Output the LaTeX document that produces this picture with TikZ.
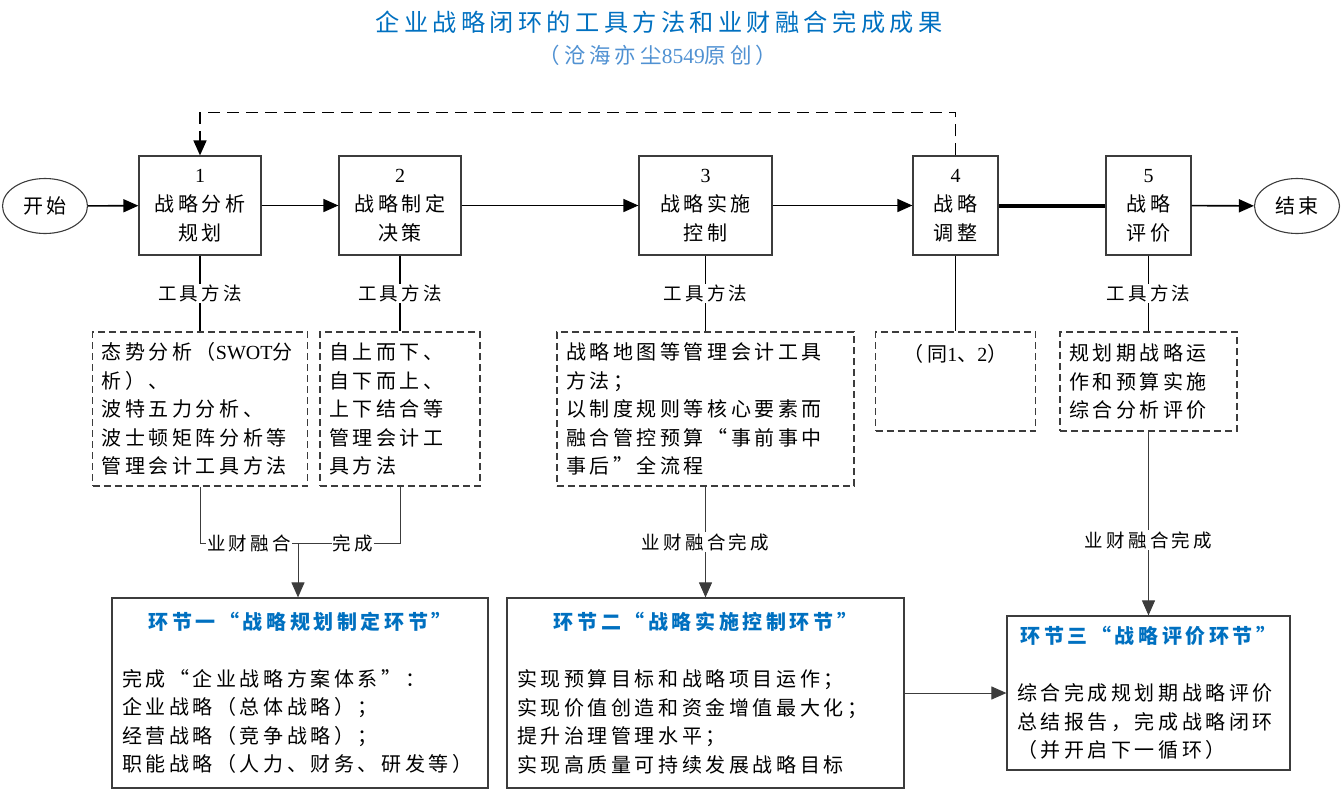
\documentclass[tikz,border=0pt]{standalone}
\usepackage{fontspec}
\setmainfont{Noto Sans CJK SC}[LetterSpace=18]
\newfontfamily\latin{Liberation Serif}
\usetikzlibrary{arrows.meta,shapes.geometric}
\definecolor{headblue}{RGB}{0,112,192}
\definecolor{subblue}{RGB}{80,145,210}
\definecolor{boxgray}{RGB}{60,60,60}

\begin{document}
\begin{tikzpicture}[
  x=1pt, y=-1pt, >={Triangle[length=15pt,width=13pt]},
  every node/.style={font=\fontsize{20}{28.5}\selectfont},
  term/.style={draw=boxgray, ellipse, line width=1.1pt, inner sep=0pt,
               minimum width=85pt, minimum height=55pt},
  stepbox/.style={draw=boxgray, line width=1.2pt, align=center, inner sep=0pt,
                  minimum height=99pt, font=\fontsize{20}{29}\selectfont},
  toolbox/.style={draw=boxgray, line width=1.3pt, dash pattern=on 7pt off 4pt,
                  align=left, inner xsep=9pt, inner ysep=0pt},
  stagebox/.style={draw=boxgray, line width=1.2pt, align=left, inner xsep=10pt,
                   inner ysep=0pt},
  lbl/.style={font=\fontsize{18.5}{22}\selectfont, fill=white, inner sep=1pt},
  flow/.style={line width=1.6pt},
  link/.style={line width=1pt, draw=boxgray}
]
% title
\node[font=\fontsize{24.2}{30}\selectfont\color{headblue}] (title) at (659,22)
  {企业战略闭环的工具方法和业财融合完成成果};
\node[font=\fontsize{21.5}{24}\selectfont\color{subblue}] (author) at (658,55)
  {（沧海亦尘{\latin 8549}原创）};

% main flow
\node[term] (start) at (45,206) {开始};
\node[stepbox, minimum width=122pt] (s1) at (200,205.5) {{\latin 1}\\战略分析\\规划};
\node[stepbox, minimum width=122pt] (s2) at (400,205.5) {{\latin 2}\\战略制定\\决策};
\node[stepbox, minimum width=133pt] (s3) at (705.5,205.5) {{\latin 3}\\战略实施\\控制};
\node[stepbox, minimum width=85pt] (s4) at (955.5,205.5) {{\latin 4}\\战略\\调整};
\node[stepbox, minimum width=85pt] (s5) at (1148.5,205.5) {{\latin 5}\\战略\\评价};
\node[term] (end) at (1297,206) {结束};

% tool boxes
\node[toolbox, minimum width=215pt, minimum height=154pt, text width=197pt] (d1) at (200,409)
  {态势分析（{\latin SWOT}分\\析）、\\波特五力分析、\\波士顿矩阵分析等\\管理会计工具方法};
\node[toolbox, minimum width=160pt, minimum height=154pt, text width=142pt] (d2) at (400,409)
  {自上而下、\\自下而上、\\上下结合等\\管理会计工\\具方法};
\node[toolbox, minimum width=297pt, minimum height=154pt, text width=279pt] (d3) at (705.5,409)
  {战略地图等管理会计工具\\方法；\\以制度规则等核心要素而\\融合管控预算“事前事中\\事后”全流程};
\node[toolbox, minimum width=160pt, minimum height=99pt, align=center] (d4) at (955.5,381.5)
  {（同{\latin 1}、{\latin 2}）\\\mbox{}\\\mbox{}};
\node[toolbox, minimum width=177pt, minimum height=99pt, text width=159pt] (d5) at (1148.5,381.5)
  {规划期战略运\\作和预算实施\\综合分析评价};

% stage boxes
\node[stagebox, minimum width=376pt, minimum height=190pt, text width=356pt] (b1) at (300,693)
  {\makebox[356pt]{\bfseries\color{headblue}环节一“战略规划制定环节”}\\\mbox{}\\
   完成“企业战略方案体系”：\\企业战略（总体战略）；\\经营战略（竞争战略）；\\职能战略（人力、财务、研发等）};
\node[stagebox, minimum width=397pt, minimum height=190pt, text width=377pt] (b2) at (705.5,693)
  {\makebox[377pt]{\bfseries\color{headblue}环节二“战略实施控制环节”}\\\mbox{}\\
   实现预算目标和战略项目运作；\\实现价值创造和资金增值最大化；\\提升治理管理水平；\\实现高质量可持续发展战略目标};
\node[stagebox, minimum width=283pt, minimum height=154pt, text width=263pt] (b3) at (1148.5,693)
  {\makebox[263pt]{\bfseries\color{headblue}环节三“战略评价环节”}\\\mbox{}\\
   综合完成规划期战略评价\\总结报告，完成战略闭环\\（并开启下一循环）};

% flow arrows
\draw[flow, ->] (start) -- (s1);
\draw[flow, ->] (s1) -- (s2);
\draw[flow, ->] (s2) -- (s3);
\draw[flow, ->] (s3) -- (s4);
\draw[line width=4pt] (s4) -- (s5);
\draw[flow, ->] (s5) -- (end);
\draw[flow, ->, dash pattern=on 12pt off 7pt] (s4.north) -- ++(0,-43) -| (s1.north);

% tool methods
\draw[flow] (s1) -- (d1) node[lbl, midway]{工具方法};
\draw[flow] (s2) -- (d2) node[lbl, midway]{工具方法};
\draw[flow] (s3) -- (d3) node[lbl, midway]{工具方法};
\draw[flow] (s4) -- (d4);
\draw[flow] (s5) -- (d5) node[lbl, midway]{工具方法};

% business-finance integration
\coordinate (j1) at (298,543);
\draw[link] (d1.south) |- (j1) node[lbl, pos=0.75]{业财融合};
\draw[link] (d2.south) |- (j1) node[lbl, pos=0.73]{完成};
\draw[link, ->] (j1) -- (j1 |- b1.north);
\draw[link, ->] (d3) -- (b2) node[lbl, midway]{业财融合完成};
\draw[link, ->] (d5) -- (b3) node[lbl, pos=0.59]{业财融合完成};
\draw[link, ->] (b2) -- (b3);

\useasboundingbox (0,0) rectangle (1342,790);
\end{tikzpicture}
\end{document}
